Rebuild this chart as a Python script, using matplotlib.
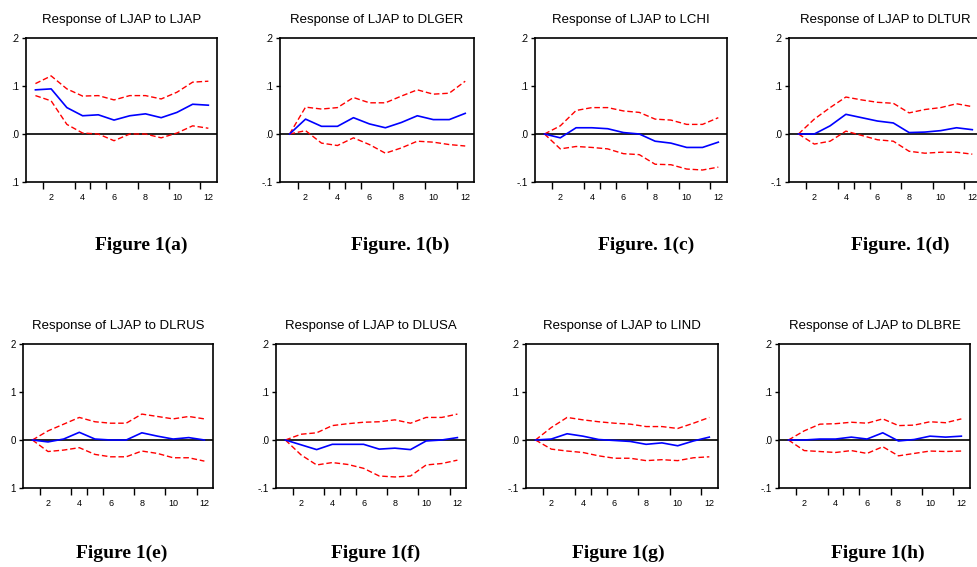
import numpy as np
import matplotlib.pyplot as plt

periods = [1, 2, 3, 4, 5, 6, 7, 8, 9, 10, 11, 12]

titles = ["Response of LJAP to LJAP", "Response of LJAP to DLGER",
          "Response of LJAP to LCHI", "Response of LJAP to DLTUR",
          "Response of LJAP to DLRUS", "Response of LJAP to DLUSA",
          "Response of LJAP to LIND", "Response of LJAP to DLBRE"]
captions = ["Figure 1(a)", "Figure. 1(b)", "Figure. 1(c)", "Figure. 1(d)",
            "Figure 1(e)", "Figure 1(f)", "Figure 1(g)", "Figure 1(h)"]

# impulse responses (blue) and +/- 2 s.e. bands (red)
resp_ljap = [0.092, 0.094, 0.055, 0.038, 0.040, 0.029, 0.038, 0.042, 0.034, 0.045, 0.062, 0.060]
up_ljap = [0.105, 0.121, 0.094, 0.079, 0.080, 0.071, 0.080, 0.080, 0.073, 0.087, 0.108, 0.110]
lo_ljap = [0.080, 0.069, 0.020, 0.002, 0.000, -0.014, 0.000, 0.000, -0.008, 0.002, 0.017, 0.012]

resp_dlger = [0.0, 0.031, 0.016, 0.016, 0.034, 0.021, 0.013, 0.024, 0.038, 0.030, 0.030, 0.043]
up_dlger = [0.0, 0.056, 0.052, 0.055, 0.076, 0.065, 0.065, 0.079, 0.092, 0.083, 0.085, 0.110]
lo_dlger = [0.0, 0.007, -0.019, -0.024, -0.008, -0.022, -0.040, -0.029, -0.015, -0.017, -0.022, -0.025]

resp_lchi = [0.0, -0.008, 0.013, 0.013, 0.011, 0.003, 0.000, -0.015, -0.019, -0.028, -0.028, -0.017]
up_lchi = [0.0, 0.017, 0.049, 0.055, 0.055, 0.048, 0.045, 0.031, 0.029, 0.020, 0.020, 0.034]
lo_lchi = [0.0, -0.031, -0.026, -0.028, -0.031, -0.041, -0.043, -0.063, -0.064, -0.073, -0.075, -0.069]

resp_dltur = [0.0, 0.000, 0.017, 0.041, 0.034, 0.027, 0.023, 0.003, 0.004, 0.007, 0.013, 0.009]
up_dltur = [0.0, 0.031, 0.055, 0.077, 0.071, 0.066, 0.064, 0.044, 0.051, 0.055, 0.063, 0.057]
lo_dltur = [0.0, -0.021, -0.015, 0.006, -0.003, -0.012, -0.015, -0.036, -0.040, -0.038, -0.038, -0.042]

resp_dlrus = [0.0, -0.004, 0.002, 0.016, 0.002, 0.000, 0.000, 0.015, 0.008, 0.002, 0.005, 0.000]
up_dlrus = [0.0, 0.019, 0.033, 0.047, 0.038, 0.035, 0.035, 0.054, 0.049, 0.044, 0.049, 0.044]
lo_dlrus = [0.0, -0.024, -0.021, -0.016, -0.030, -0.035, -0.035, -0.023, -0.028, -0.037, -0.037, -0.044]

resp_dlusa = [0.0, -0.010, -0.020, -0.009, -0.009, -0.009, -0.019, -0.017, -0.020, -0.002, 0.000, 0.005]
up_dlusa = [0.0, 0.012, 0.015, 0.030, 0.034, 0.037, 0.038, 0.042, 0.035, 0.047, 0.047, 0.054]
lo_dlusa = [0.0, -0.031, -0.052, -0.047, -0.051, -0.059, -0.075, -0.077, -0.075, -0.052, -0.049, -0.042]

resp_lind = [0.0, 0.002, 0.013, 0.008, 0.001, -0.001, -0.003, -0.009, -0.006, -0.012, -0.002, 0.006]
up_lind = [0.0, 0.026, 0.047, 0.042, 0.038, 0.035, 0.033, 0.028, 0.028, 0.024, 0.035, 0.047]
lo_lind = [0.0, -0.019, -0.023, -0.026, -0.033, -0.038, -0.038, -0.043, -0.041, -0.043, -0.037, -0.035]

resp_dlbre = [0.0, 0.000, 0.002, 0.002, 0.006, 0.002, 0.015, -0.002, 0.001, 0.008, 0.006, 0.008]
up_dlbre = [0.0, 0.019, 0.033, 0.034, 0.037, 0.035, 0.044, 0.030, 0.031, 0.038, 0.036, 0.044]
lo_dlbre = [0.0, -0.022, -0.024, -0.026, -0.022, -0.028, -0.014, -0.033, -0.028, -0.023, -0.024, -0.023]

responses = [resp_ljap, resp_dlger, resp_lchi, resp_dltur, resp_dlrus, resp_dlusa, resp_lind, resp_dlbre]
uppers = [up_ljap, up_dlger, up_lchi, up_dltur, up_dlrus, up_dlusa, up_lind, up_dlbre]
lowers = [lo_ljap, lo_dlger, lo_lchi, lo_dltur, lo_dlrus, lo_dlusa, lo_lind, lo_dlbre]

y_ticks = [0.2, 0.1, 0.0, -0.1]
y_labels_std = [".2", ".1", ".0", "-.1"]
# labels as they appear (partly cut off) in the source picture
y_labels = [[".2", ".1", ".0", ".1"], y_labels_std, y_labels_std, y_labels_std,
            ["2", "1", "0", "1"], y_labels_std, y_labels_std, y_labels_std]
x_labels = [2, 4, 6, 8, 10, 12]
x_tick_marks = [1.5, 3.5, 4.5, 5.5, 7.5, 9.5, 11.5]

W, H = 977, 567
# axes boxes in pixels: left, right, top, bottom
boxes = [(26, 217, 38, 182), (280, 474, 38, 182), (535, 727, 38, 182), (789, 981, 38, 182),
         (23, 213, 344, 488), (276, 466, 344, 488), (526, 718, 344, 488), (779, 970, 344, 488)]
cap_x = [141, 400, 646, 900, 122, 376, 618, 878]
cap_y = [245, 245, 245, 245, 553, 553, 553, 553]

fig = plt.figure(figsize=(W / 100, H / 100), dpi=100)
title_font = ['Liberation Sans Narrow', 'Liberation Sans']

for i in range(8):
    l, r, t, b = boxes[i]
    ax = fig.add_axes([l / W, 1 - b / H, (r - l) / W, (b - t) / H])
    ax.axhline(0, color='black', lw=1.2, zorder=1)
    ax.plot(periods, uppers[i], color='red', lw=1.0, ls=(0, (4, 2)), zorder=2)
    ax.plot(periods, lowers[i], color='red', lw=1.0, ls=(0, (4, 2)), zorder=2)
    ax.plot(periods, responses[i], color='blue', lw=1.2, zorder=3)
    ax.set_xlim(0.4, 12.55)
    ax.set_ylim(-0.1, 0.2)
    ax.set_yticks(y_ticks)
    ax.set_yticklabels(y_labels[i], fontsize=7, family='Liberation Sans')
    ax.set_xticks(x_tick_marks)
    ax.set_xticklabels([])
    ax.set_xticks(x_labels, minor=True)
    ax.set_xticklabels([str(v) for v in x_labels], minor=True, fontsize=6.5,
                       family='Liberation Sans')
    ax.tick_params(axis='x', which='major', length=5, width=1, direction='out')
    ax.tick_params(axis='x', which='minor', length=0, pad=8)
    ax.tick_params(axis='y', length=3, width=1, pad=2)
    for s in ax.spines.values():
        s.set_linewidth(1.2)
    ax.set_title(titles[i], fontsize=9.5, family=title_font, pad=11)
    fig.text(cap_x[i] / W, 1 - cap_y[i] / H, captions[i], ha='center', va='center',
             fontsize=14, fontweight='bold', family='Liberation Serif')

fig.savefig('out.png', dpi=100)
